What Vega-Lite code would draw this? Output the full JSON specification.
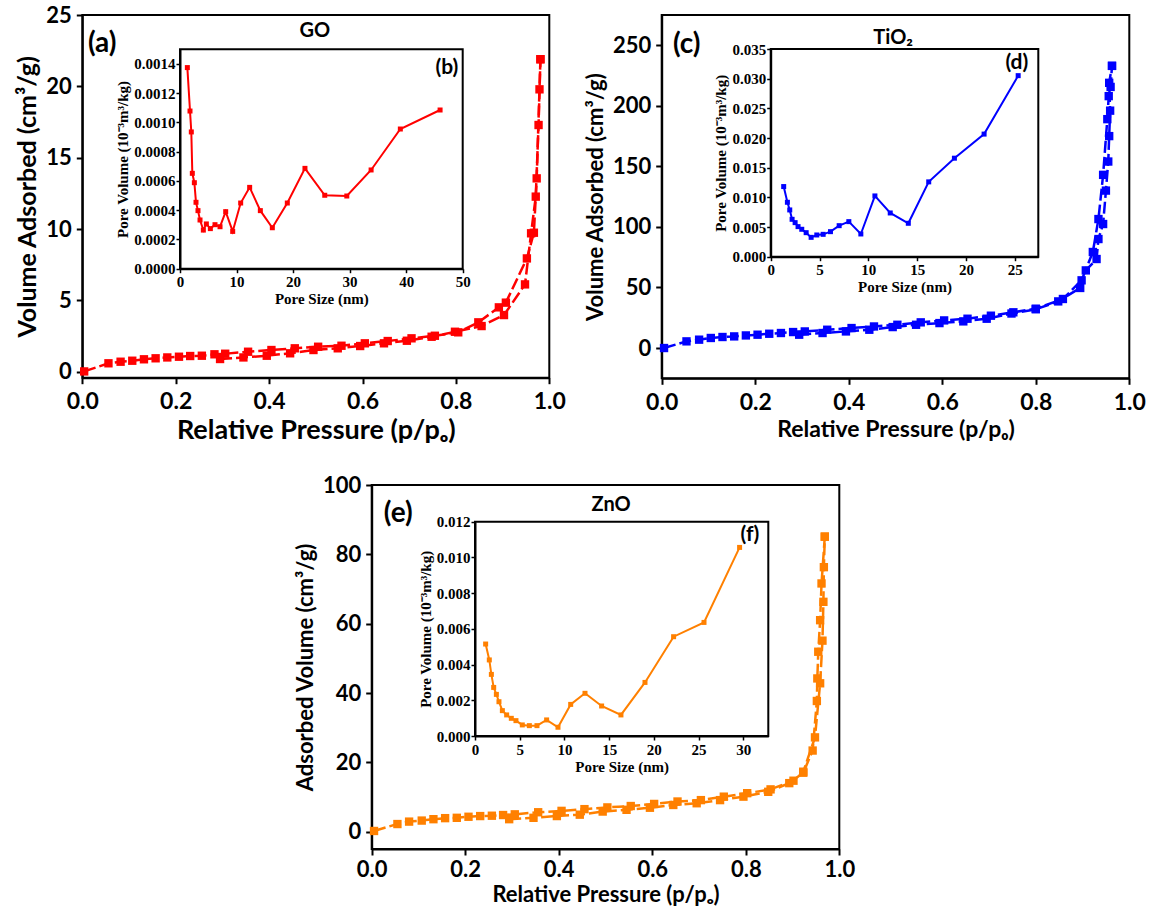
{
"$schema": "https://vega.github.io/schema/vega-lite/v6.json",
"width": 1149, "height": 913, "autosize": {"type": "none"}, "padding": 0,
"background": "white",
"config": {
  "view": {"stroke": null},
  "axis": {"grid": false, "domainColor": "black", "domainWidth": 2, "tickColor": "black", "tickWidth": 2, "tickSize": 6,
    "labelFont": "Lato", "labelFontSize": 22, "labelFontWeight": "bold", "labelColor": "black", "labelPadding": 5,
    "labelFlush": false, "labelOverlap": false,
    "titleFont": "Lato", "titleFontSize": 23, "titleFontWeight": "bold", "titleColor": "black", "titlePadding": 5}
},
"datasets": {
  "goIso": [
    {"b":"u","i":1,"p":0.004,"v":0.02},{"b":"u","i":2,"p":0.056,"v":0.59},{"b":"u","i":3,"p":0.082,"v":0.70},{"b":"u","i":4,"p":0.107,"v":0.77},
    {"b":"u","i":5,"p":0.132,"v":0.87},{"b":"u","i":6,"p":0.157,"v":0.94},{"b":"u","i":7,"p":0.182,"v":1.0},{"b":"u","i":8,"p":0.207,"v":1.05},
    {"b":"u","i":9,"p":0.231,"v":1.1},{"b":"u","i":10,"p":0.256,"v":1.12},{"b":"u","i":11,"p":0.283,"v":1.22},{"b":"u","i":12,"p":0.306,"v":1.26},
    {"b":"u","i":13,"p":0.355,"v":1.40},{"b":"u","i":14,"p":0.405,"v":1.52},{"b":"u","i":15,"p":0.455,"v":1.64},{"b":"u","i":16,"p":0.505,"v":1.75},
    {"b":"u","i":17,"p":0.555,"v":1.82},{"b":"u","i":18,"p":0.605,"v":1.99},{"b":"u","i":19,"p":0.654,"v":2.15},{"b":"u","i":20,"p":0.705,"v":2.34},
    {"b":"u","i":21,"p":0.755,"v":2.52},{"b":"u","i":22,"p":0.805,"v":2.76},{"b":"u","i":23,"p":0.848,"v":3.46},{"b":"u","i":24,"p":0.892,"v":4.51},
    {"b":"u","i":25,"p":0.907,"v":4.84},{"b":"u","i":26,"p":0.952,"v":7.94},{"b":"u","i":27,"p":0.967,"v":9.74},{"b":"u","i":28,"p":0.973,"v":13.55},
    {"b":"u","i":29,"p":0.979,"v":19.79},{"b":"u","i":30,"p":0.981,"v":21.9},
    {"b":"l","i":1,"p":0.295,"v":0.89},{"b":"l","i":2,"p":0.345,"v":1.0},{"b":"l","i":3,"p":0.395,"v":1.12},{"b":"l","i":4,"p":0.445,"v":1.29},
    {"b":"l","i":5,"p":0.495,"v":1.52},{"b":"l","i":6,"p":0.547,"v":1.64},{"b":"l","i":7,"p":0.595,"v":1.80},{"b":"l","i":8,"p":0.646,"v":1.99},
    {"b":"l","i":9,"p":0.695,"v":2.17},{"b":"l","i":10,"p":0.748,"v":2.45},{"b":"l","i":11,"p":0.798,"v":2.80},{"b":"l","i":12,"p":0.855,"v":3.20},
    {"b":"l","i":13,"p":0.903,"v":3.97},{"b":"l","i":14,"p":0.948,"v":6.12},{"b":"l","i":15,"p":0.961,"v":9.70},{"b":"l","i":16,"p":0.971,"v":12.27},
    {"b":"l","i":17,"p":0.977,"v":17.29},{"b":"l","i":18,"p":0.981,"v":21.9}
  ],
  "goPore": [
    {"d":1.30,"pv":0.001375},{"d":1.77,"pv":0.001078},{"d":2.0,"pv":0.000935},{"d":2.18,"pv":0.000652},{"d":2.54,"pv":0.000588},
    {"d":2.83,"pv":0.000454},{"d":3.18,"pv":0.000397},{"d":3.54,"pv":0.000333},{"d":4.13,"pv":0.000264},{"d":4.66,"pv":0.000306},
    {"d":5.37,"pv":0.000274},{"d":6.19,"pv":0.000301},{"d":7.08,"pv":0.000287},{"d":8.08,"pv":0.00039},{"d":9.32,"pv":0.000255},
    {"d":10.73,"pv":0.000449},{"d":12.32,"pv":0.000556},{"d":14.21,"pv":0.000397},{"d":16.33,"pv":0.00028},{"d":18.98,"pv":0.000449},
    {"d":22.1,"pv":0.000686},{"d":25.6,"pv":0.000502},{"d":29.5,"pv":0.000497},{"d":33.8,"pv":0.000675},{"d":38.97,"pv":0.000955},
    {"d":46.0,"pv":0.001085}
  ],
  "tiIso": [
    {"b":"u","i":1,"p":0.005,"v":0},{"b":"u","i":2,"p":0.053,"v":5.5},{"b":"u","i":3,"p":0.080,"v":6.9},{"b":"u","i":4,"p":0.105,"v":8.3},
    {"b":"u","i":5,"p":0.130,"v":9.1},{"b":"u","i":6,"p":0.155,"v":9.6},{"b":"u","i":7,"p":0.180,"v":10.4},{"b":"u","i":8,"p":0.205,"v":11},
    {"b":"u","i":9,"p":0.230,"v":11.8},{"b":"u","i":10,"p":0.255,"v":12.4},{"b":"u","i":11,"p":0.281,"v":13.2},{"b":"u","i":12,"p":0.306,"v":13.7},
    {"b":"u","i":13,"p":0.354,"v":15.1},{"b":"u","i":14,"p":0.406,"v":16.5},{"b":"u","i":15,"p":0.454,"v":17.8},{"b":"u","i":16,"p":0.504,"v":19.2},
    {"b":"u","i":17,"p":0.554,"v":21.2},{"b":"u","i":18,"p":0.604,"v":22.8},{"b":"u","i":19,"p":0.654,"v":24.2},{"b":"u","i":20,"p":0.704,"v":26.7},
    {"b":"u","i":21,"p":0.752,"v":29.5},{"b":"u","i":22,"p":0.800,"v":32.5},{"b":"u","i":23,"p":0.858,"v":40.5},{"b":"u","i":24,"p":0.898,"v":55.9},
    {"b":"u","i":25,"p":0.922,"v":79.3},{"b":"u","i":26,"p":0.934,"v":106.5},{"b":"u","i":27,"p":0.944,"v":143},{"b":"u","i":28,"p":0.953,"v":189},
    {"b":"u","i":29,"p":0.956,"v":208},{"b":"u","i":30,"p":0.960,"v":215.6},{"b":"u","i":31,"p":0.963,"v":233},
    {"b":"l","i":1,"p":0.294,"v":11},{"b":"l","i":2,"p":0.344,"v":12.4},{"b":"l","i":3,"p":0.394,"v":13.7},{"b":"l","i":4,"p":0.444,"v":15.1},
    {"b":"l","i":5,"p":0.494,"v":17.3},{"b":"l","i":6,"p":0.544,"v":19.2},{"b":"l","i":7,"p":0.594,"v":20.6},{"b":"l","i":8,"p":0.645,"v":22.0},
    {"b":"l","i":9,"p":0.695,"v":24.2},{"b":"l","i":10,"p":0.748,"v":28.5},{"b":"l","i":11,"p":0.800,"v":32.0},{"b":"l","i":12,"p":0.848,"v":38.5},
    {"b":"l","i":13,"p":0.895,"v":49.6},{"b":"l","i":14,"p":0.907,"v":64.1},{"b":"l","i":15,"p":0.930,"v":73.5},{"b":"l","i":16,"p":0.934,"v":90},
    {"b":"l","i":17,"p":0.944,"v":102.4},{"b":"l","i":18,"p":0.950,"v":130},{"b":"l","i":19,"p":0.955,"v":154},{"b":"l","i":20,"p":0.957,"v":175},
    {"b":"l","i":21,"p":0.959,"v":196},{"b":"l","i":22,"p":0.957,"v":219},{"b":"l","i":23,"p":0.963,"v":233}
  ],
  "tiPore": [
    {"d":1.33,"pv":0.01182},{"d":1.71,"pv":0.00917},{"d":1.95,"pv":0.00788},{"d":2.19,"pv":0.0063},{"d":2.50,"pv":0.00574},
    {"d":2.80,"pv":0.00507},{"d":3.18,"pv":0.00462},{"d":3.63,"pv":0.00405},{"d":4.14,"pv":0.00326},{"d":4.72,"pv":0.00366},
    {"d":5.37,"pv":0.00377},{"d":6.12,"pv":0.00422},{"d":7.01,"pv":0.00523},{"d":8.00,"pv":0.00591},{"d":9.23,"pv":0.00383},
    {"d":10.67,"pv":0.01024},{"d":12.24,"pv":0.00737},{"d":14.09,"pv":0.00563},{"d":16.18,"pv":0.01261},{"d":18.81,"pv":0.0166},
    {"d":21.85,"pv":0.02066},{"d":25.34,"pv":0.03051}
  ],
  "znIso": [
    {"b":"u","i":1,"p":0.005,"v":0.2},{"b":"u","i":2,"p":0.055,"v":2.2},{"b":"u","i":3,"p":0.080,"v":2.9},{"b":"u","i":4,"p":0.107,"v":3.2},
    {"b":"u","i":5,"p":0.132,"v":3.6},{"b":"u","i":6,"p":0.157,"v":3.9},{"b":"u","i":7,"p":0.182,"v":4.0},{"b":"u","i":8,"p":0.207,"v":4.3},
    {"b":"u","i":9,"p":0.232,"v":4.5},{"b":"u","i":10,"p":0.257,"v":4.6},{"b":"u","i":11,"p":0.281,"v":4.8},{"b":"u","i":12,"p":0.306,"v":5.0},
    {"b":"u","i":13,"p":0.356,"v":5.6},{"b":"u","i":14,"p":0.406,"v":6.0},{"b":"u","i":15,"p":0.455,"v":6.5},{"b":"u","i":16,"p":0.504,"v":7.0},
    {"b":"u","i":17,"p":0.554,"v":7.4},{"b":"u","i":18,"p":0.604,"v":8.0},{"b":"u","i":19,"p":0.654,"v":8.7},{"b":"u","i":20,"p":0.704,"v":9.1},
    {"b":"u","i":21,"p":0.753,"v":10.1},{"b":"u","i":22,"p":0.803,"v":11.1},{"b":"u","i":23,"p":0.853,"v":12.2},{"b":"u","i":24,"p":0.902,"v":14.7},
    {"b":"u","i":25,"p":0.923,"v":17.3},{"b":"u","i":26,"p":0.948,"v":27.2},{"b":"u","i":27,"p":0.959,"v":42.8},{"b":"u","i":28,"p":0.964,"v":55.1},
    {"b":"u","i":29,"p":0.966,"v":66.3},{"b":"u","i":30,"p":0.967,"v":76.3},{"b":"u","i":31,"p":0.969,"v":85.1},
    {"b":"l","i":1,"p":0.294,"v":3.6},{"b":"l","i":2,"p":0.346,"v":4.0},{"b":"l","i":3,"p":0.396,"v":4.5},{"b":"l","i":4,"p":0.445,"v":4.9},
    {"b":"l","i":5,"p":0.494,"v":5.8},{"b":"l","i":6,"p":0.545,"v":6.3},{"b":"l","i":7,"p":0.595,"v":6.9},{"b":"l","i":8,"p":0.645,"v":7.7},
    {"b":"l","i":9,"p":0.695,"v":8.2},{"b":"l","i":10,"p":0.745,"v":9.1},{"b":"l","i":11,"p":0.795,"v":10.1},{"b":"l","i":12,"p":0.848,"v":11.5},
    {"b":"l","i":13,"p":0.893,"v":14.0},{"b":"l","i":14,"p":0.923,"v":17.0},{"b":"l","i":15,"p":0.943,"v":23.4},{"b":"l","i":16,"p":0.952,"v":37.7},
    {"b":"l","i":17,"p":0.953,"v":44.2},{"b":"l","i":18,"p":0.955,"v":51.9},{"b":"l","i":19,"p":0.959,"v":61},{"b":"l","i":20,"p":0.962,"v":71.6},
    {"b":"l","i":21,"p":0.969,"v":85.1}
  ],
  "znPore": [
    {"d":1.19,"pv":0.00515},{"d":1.60,"pv":0.00426},{"d":1.83,"pv":0.00345},{"d":2.09,"pv":0.00272},{"d":2.39,"pv":0.00233},
    {"d":2.68,"pv":0.00192},{"d":3.06,"pv":0.00142},{"d":3.54,"pv":0.00118},{"d":4.06,"pv":0.00099},{"d":4.58,"pv":0.00086},
    {"d":5.29,"pv":0.00062},{"d":6.08,"pv":0.00058},{"d":6.93,"pv":0.00058},{"d":8.01,"pv":0.0009},{"d":9.28,"pv":0.00049},
    {"d":10.70,"pv":0.00177},{"d":12.30,"pv":0.00239},{"d":14.16,"pv":0.00168},{"d":16.32,"pv":0.00118},{"d":19.01,"pv":0.003},
    {"d":22.21,"pv":0.00556},{"d":25.61,"pv":0.00636},{"d":29.59,"pv":0.01056}
  ]
},
"layer": [
  {
    "data": {"name": "goIso"},
    "layer": [
      {"data": {"values": [{}]}, "mark": {"type": "rect", "filled": false, "color": "black", "strokeWidth": 2},
       "encoding": {"x": {"datum": 0, "type": "quantitative", "scale": {"domain": [0, 1], "range": [82.3, 549.3], "nice": false, "zero": false}},
                    "x2": {"datum": 1},
                    "y": {"datum": -0.42, "type": "quantitative", "scale": {"domain": [-0.42, 25], "range": [377.7, 15], "nice": false, "zero": false}},
                    "y2": {"datum": 25}}},
      {"mark": {"type": "line", "color": "#ff0000", "strokeWidth": 2.5, "strokeDash": [12, 4]},
       "encoding": {"x": {"field": "p", "type": "quantitative", "scale": {"domain": [0, 1], "range": [82.3, 549.3], "nice": false, "zero": false},
                          "axis": {"orient": "bottom", "offset": -535.3, "values": [0, 0.2, 0.4, 0.6, 0.8, 1.0], "format": ".1f", "title": "Relative Pressure (p/pₒ)", "labelFontSize": 23, "labelPadding": 7, "titleFontSize": 27, "titlePadding": 4}},
                    "y": {"field": "v", "type": "quantitative", "scale": {"domain": [-0.42, 25], "range": [377.7, 15], "nice": false, "zero": false},
                          "axis": {"orient": "left", "offset": -82.3, "values": [0, 5, 10, 15, 20, 25], "format": "d", "title": "Volume Adsorbed (cm³/g)", "titleFontSize": 25}},
                    "detail": {"field": "b"}, "order": {"field": "i"}}},
      {"mark": {"type": "point", "shape": "square", "filled": true, "color": "#ff0000", "size": 70, "opacity": 1},
       "encoding": {"x": {"field": "p", "type": "quantitative"}, "y": {"field": "v", "type": "quantitative"}}},
      {"data": {"values": [{}]}, "mark": {"type": "text", "font": "Lato", "fontWeight": "bold", "fontSize": 28, "align": "left", "baseline": "middle", "color": "black"},
       "encoding": {"x": {"datum": 0.012, "type": "quantitative"}, "y": {"datum": 23.0, "type": "quantitative"}, "text": {"value": "(a)"}}},
      {"data": {"values": [{}]}, "mark": {"type": "text", "font": "Lato", "fontWeight": "bold", "fontSize": 20, "align": "center", "baseline": "middle", "color": "black"},
       "encoding": {"x": {"datum": 0.498, "type": "quantitative"}, "y": {"datum": 23.9, "type": "quantitative"}, "text": {"value": "GO"}}}
    ]
  },
  {
    "data": {"name": "goPore"},
    "layer": [
      {"data": {"values": [{}]}, "mark": {"type": "rect", "filled": false, "color": "black", "strokeWidth": 2},
       "encoding": {"x": {"datum": 0, "type": "quantitative", "scale": {"domain": [0, 50], "range": [180, 462.7], "nice": false, "zero": false}},
                    "x2": {"datum": 50},
                    "y": {"datum": 0, "type": "quantitative", "scale": {"domain": [0, 0.0015], "range": [268.7, 49.3], "nice": false, "zero": false}},
                    "y2": {"datum": 0.0015}}},
      {"mark": {"type": "line", "color": "#ff0000", "strokeWidth": 2},
       "encoding": {"x": {"field": "d", "type": "quantitative", "scale": {"domain": [0, 50], "range": [180, 462.7], "nice": false, "zero": false},
                          "axis": {"orient": "bottom", "offset": -644.3, "values": [0, 10, 20, 30, 40, 50], "format": "d", "title": "Pore Size (nm)",
                                   "labelFont": "Liberation Serif", "labelFontSize": 15, "titleFont": "Liberation Serif", "titleFontSize": 15, "tickSize": 4, "tickWidth": 1.5, "labelPadding": 2, "titlePadding": 2}},
                    "y": {"field": "pv", "type": "quantitative", "scale": {"domain": [0, 0.0015], "range": [268.7, 49.3], "nice": false, "zero": false},
                          "axis": {"orient": "left", "offset": -180, "values": [0, 0.0002, 0.0004, 0.0006, 0.0008, 0.0010, 0.0012, 0.0014], "format": ".4f", "title": "Pore Volume (10⁻³m³/kg)",
                                   "labelFont": "Liberation Serif", "labelFontSize": 15, "titleFont": "Liberation Serif", "titleFontSize": 15, "tickSize": 4, "tickWidth": 1.5, "labelPadding": 1, "titlePadding": 3}}}},
      {"mark": {"type": "point", "shape": "square", "filled": true, "color": "#ff0000", "size": 25, "opacity": 1},
       "encoding": {"x": {"field": "d", "type": "quantitative"}, "y": {"field": "pv", "type": "quantitative"}}},
      {"data": {"values": [{}]}, "mark": {"type": "text", "font": "Lato", "fontWeight": "bold", "fontSize": 21, "align": "center", "baseline": "middle", "color": "black"},
       "encoding": {"x": {"datum": 47.2, "type": "quantitative"}, "y": {"datum": 0.001373, "type": "quantitative"}, "text": {"value": "(b)"}}}
    ]
  },
  {
    "data": {"name": "tiIso"},
    "layer": [
      {"data": {"values": [{}]}, "mark": {"type": "rect", "filled": false, "color": "black", "strokeWidth": 2},
       "encoding": {"x": {"datum": 0, "type": "quantitative", "scale": {"domain": [0, 1], "range": [661.7, 1129.3], "nice": false, "zero": false}},
                    "x2": {"datum": 1},
                    "y": {"datum": -25, "type": "quantitative", "scale": {"domain": [-25, 275], "range": [378.3, 15], "nice": false, "zero": false}},
                    "y2": {"datum": 275}}},
      {"mark": {"type": "line", "color": "#0000ff", "strokeWidth": 2.5, "strokeDash": [12, 4]},
       "encoding": {"x": {"field": "p", "type": "quantitative", "scale": {"domain": [0, 1], "range": [661.7, 1129.3], "nice": false, "zero": false},
                          "axis": {"orient": "bottom", "offset": -534.7, "values": [0, 0.2, 0.4, 0.6, 0.8, 1.0], "format": ".1f", "title": "Relative Pressure (p/pₒ)", "labelFontSize": 23, "labelPadding": 7, "titlePadding": 4}},
                    "y": {"field": "v", "type": "quantitative", "scale": {"domain": [-25, 275], "range": [378.3, 15], "nice": false, "zero": false},
                          "axis": {"orient": "left", "offset": -661.7, "values": [0, 50, 100, 150, 200, 250], "format": "d", "title": "Volume Adsorbed (cm³/g)", "titleFontSize": 22}},
                    "detail": {"field": "b"}, "order": {"field": "i"}}},
      {"mark": {"type": "point", "shape": "square", "filled": true, "color": "#0000ff", "size": 70, "opacity": 1},
       "encoding": {"x": {"field": "p", "type": "quantitative"}, "y": {"field": "v", "type": "quantitative"}}},
      {"data": {"values": [{}]}, "mark": {"type": "text", "font": "Lato", "fontWeight": "bold", "fontSize": 28, "align": "left", "baseline": "middle", "color": "black"},
       "encoding": {"x": {"datum": 0.024, "type": "quantitative"}, "y": {"datum": 250.5, "type": "quantitative"}, "text": {"value": "(c)"}}},
      {"data": {"values": [{}]}, "mark": {"type": "text", "font": "Lato", "fontWeight": "bold", "fontSize": 20, "align": "center", "baseline": "middle", "color": "black"},
       "encoding": {"x": {"datum": 0.495, "type": "quantitative"}, "y": {"datum": 256.3, "type": "quantitative"}, "text": {"value": "TiO₂"}}}
    ]
  },
  {
    "data": {"name": "tiPore"},
    "layer": [
      {"data": {"values": [{}]}, "mark": {"type": "rect", "filled": false, "color": "black", "strokeWidth": 2},
       "encoding": {"x": {"datum": 0, "type": "quantitative", "scale": {"domain": [0, 27.4], "range": [770.7, 1038.3], "nice": false, "zero": false}},
                    "x2": {"datum": 27.4},
                    "y": {"datum": 0, "type": "quantitative", "scale": {"domain": [0, 0.035], "range": [256.7, 49], "nice": false, "zero": false}},
                    "y2": {"datum": 0.035}}},
      {"mark": {"type": "line", "color": "#0000ff", "strokeWidth": 2},
       "encoding": {"x": {"field": "d", "type": "quantitative", "scale": {"domain": [0, 27.4], "range": [770.7, 1038.3], "nice": false, "zero": false},
                          "axis": {"orient": "bottom", "offset": -656.3, "values": [0, 5, 10, 15, 20, 25], "format": "d", "title": "Pore Size (nm)",
                                   "labelFont": "Liberation Serif", "labelFontSize": 15, "titleFont": "Liberation Serif", "titleFontSize": 15, "tickSize": 4, "tickWidth": 1.5, "labelPadding": 2, "titlePadding": 2}},
                    "y": {"field": "pv", "type": "quantitative", "scale": {"domain": [0, 0.035], "range": [256.7, 49], "nice": false, "zero": false},
                          "axis": {"orient": "left", "offset": -770.7, "values": [0, 0.005, 0.010, 0.015, 0.020, 0.025, 0.030, 0.035], "format": ".3f", "title": "Pore Volume (10⁻³m³/kg)",
                                   "labelFont": "Liberation Serif", "labelFontSize": 15, "titleFont": "Liberation Serif", "titleFontSize": 15, "tickSize": 4, "tickWidth": 1.5, "labelPadding": 1, "titlePadding": 3}}}},
      {"mark": {"type": "point", "shape": "square", "filled": true, "color": "#0000ff", "size": 25, "opacity": 1},
       "encoding": {"x": {"field": "d", "type": "quantitative"}, "y": {"field": "pv", "type": "quantitative"}}},
      {"data": {"values": [{}]}, "mark": {"type": "text", "font": "Lato", "fontWeight": "bold", "fontSize": 21, "align": "center", "baseline": "middle", "color": "black"},
       "encoding": {"x": {"datum": 25.2, "type": "quantitative"}, "y": {"datum": 0.0326, "type": "quantitative"}, "text": {"value": "(d)"}}}
    ]
  },
  {
    "data": {"name": "znIso"},
    "layer": [
      {"data": {"values": [{}]}, "mark": {"type": "rect", "filled": false, "color": "black", "strokeWidth": 2},
       "encoding": {"x": {"datum": 0, "type": "quantitative", "scale": {"domain": [0, 1], "range": [371.7, 839.3], "nice": false, "zero": false}},
                    "x2": {"datum": 1},
                    "y": {"datum": -5, "type": "quantitative", "scale": {"domain": [-5, 100], "range": [849, 485], "nice": false, "zero": false}},
                    "y2": {"datum": 100}}},
      {"mark": {"type": "line", "color": "#ff8000", "strokeWidth": 2.5, "strokeDash": [12, 4]},
       "encoding": {"x": {"field": "p", "type": "quantitative", "scale": {"domain": [0, 1], "range": [371.7, 839.3], "nice": false, "zero": false},
                          "axis": {"orient": "bottom", "offset": -64, "values": [0, 0.2, 0.4, 0.6, 0.8, 1.0], "format": ".1f", "title": "Relative Pressure (p/pₒ)", "labelFontSize": 22, "labelPadding": 4, "titleFontSize": 22, "titlePadding": 4}},
                    "y": {"field": "v", "type": "quantitative", "scale": {"domain": [-5, 100], "range": [849, 485], "nice": false, "zero": false},
                          "axis": {"orient": "left", "offset": -371.7, "values": [0, 20, 40, 60, 80, 100], "format": "d", "title": "Adsorbed Volume (cm³/g)", "titleFontSize": 22}},
                    "detail": {"field": "b"}, "order": {"field": "i"}}},
      {"mark": {"type": "point", "shape": "square", "filled": true, "color": "#ff8000", "size": 70, "opacity": 1},
       "encoding": {"x": {"field": "p", "type": "quantitative"}, "y": {"field": "v", "type": "quantitative"}}},
      {"data": {"values": [{}]}, "mark": {"type": "text", "font": "Lato", "fontWeight": "bold", "fontSize": 28, "align": "left", "baseline": "middle", "color": "black"},
       "encoding": {"x": {"datum": 0.026, "type": "quantitative"}, "y": {"datum": 91.6, "type": "quantitative"}, "text": {"value": "(e)"}}},
      {"data": {"values": [{}]}, "mark": {"type": "text", "font": "Lato", "fontWeight": "bold", "fontSize": 20, "align": "center", "baseline": "middle", "color": "black"},
       "encoding": {"x": {"datum": 0.512, "type": "quantitative"}, "y": {"datum": 94.2, "type": "quantitative"}, "text": {"value": "ZnO"}}}
    ]
  },
  {
    "data": {"name": "znPore"},
    "layer": [
      {"data": {"values": [{}]}, "mark": {"type": "rect", "filled": false, "color": "black", "strokeWidth": 2},
       "encoding": {"x": {"datum": 0, "type": "quantitative", "scale": {"domain": [0, 32.8], "range": [475, 768.3], "nice": false, "zero": false}},
                    "x2": {"datum": 32.8},
                    "y": {"datum": 0, "type": "quantitative", "scale": {"domain": [0, 0.012], "range": [736, 521.7], "nice": false, "zero": false}},
                    "y2": {"datum": 0.012}}},
      {"mark": {"type": "line", "color": "#ff8000", "strokeWidth": 2},
       "encoding": {"x": {"field": "d", "type": "quantitative", "scale": {"domain": [0, 32.8], "range": [475, 768.3], "nice": false, "zero": false},
                          "axis": {"orient": "bottom", "offset": -177, "values": [0, 5, 10, 15, 20, 25, 30], "format": "d", "title": "Pore Size (nm)",
                                   "labelFont": "Liberation Serif", "labelFontSize": 15, "titleFont": "Liberation Serif", "titleFontSize": 15, "tickSize": 4, "tickWidth": 1.5, "labelPadding": 2, "titlePadding": 2}},
                    "y": {"field": "pv", "type": "quantitative", "scale": {"domain": [0, 0.012], "range": [736, 521.7], "nice": false, "zero": false},
                          "axis": {"orient": "left", "offset": -475, "values": [0, 0.002, 0.004, 0.006, 0.008, 0.010, 0.012], "format": ".3f", "title": "Pore Volume (10⁻³m³/kg)",
                                   "labelFont": "Liberation Serif", "labelFontSize": 15, "titleFont": "Liberation Serif", "titleFontSize": 15, "tickSize": 4, "tickWidth": 1.5, "labelPadding": 1, "titlePadding": 3}}}},
      {"mark": {"type": "point", "shape": "square", "filled": true, "color": "#ff8000", "size": 25, "opacity": 1},
       "encoding": {"x": {"field": "d", "type": "quantitative"}, "y": {"field": "pv", "type": "quantitative"}}},
      {"data": {"values": [{}]}, "mark": {"type": "text", "font": "Lato", "fontWeight": "bold", "fontSize": 21, "align": "center", "baseline": "middle", "color": "black"},
       "encoding": {"x": {"datum": 30.75, "type": "quantitative"}, "y": {"datum": 0.01125, "type": "quantitative"}, "text": {"value": "(f)"}}}
    ]
  }
],
"resolve": {"scale": {"x": "independent", "y": "independent"}, "axis": {"x": "independent", "y": "independent"}}
}
